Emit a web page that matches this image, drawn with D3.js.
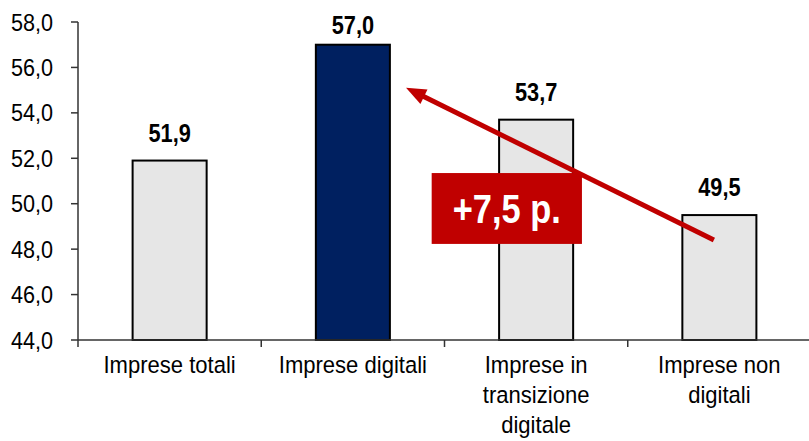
<!DOCTYPE html>
<html>
<head>
<meta charset="utf-8">
<script src="https://cdn.jsdelivr.net/npm/d3@7"></script>
<style>
  html, body { margin: 0; padding: 0; background: #fff; }
  svg { display: block; }
  text { font-family: "Liberation Sans", Arial, sans-serif; fill: #000; }
</style>
</head>
<body>
<svg id="chart" width="809" height="441"></svg>
<script>
// ---- data ----
const categories = ["Imprese totali", "Imprese digitali", "Imprese in\ntransizione\ndigitale", "Imprese non\ndigitali"];
const values = [51.9, 57.0, 53.7, 49.5];
const highlight = [false, true, false, false];
const yTicks = [44, 46, 48, 50, 52, 54, 56, 58];
const annotationText = "+7,5 p.";
// arrow from (category index, offset, value) to (category index, offset, value)
const arrowFrom = [3, -0.03, 48.4];
const arrowTo = [1, 0.29, 55.1];
// box centre (category index, offset, value) and half sizes
const boxCenter = [2, -0.16, 49.79];
const boxHalfBand = 0.41;
const boxHalfValue = 1.56;

(function () {
// ---- layout ----
const W = 809, H = 441;
const mLeft = 78, mRight = 811, mTop = 22, mBottom = 340;
const SX = 0.9; // horizontal text compression (narrow font look)

const svg = d3.select("#chart");
const x = d3.scaleBand().domain(d3.range(categories.length)).range([mLeft, mRight]).padding(0);
const y = d3.scaleLinear().domain([44, 58]).range([mBottom, mTop]);
const barW = x.bandwidth() * 0.404;
const fmt = v => d3.format(".1f")(v).replace(".", ",");
const bx = (c) => x(c[0]) + x.bandwidth() / 2 + c[1] * x.bandwidth();

function squeezedText(g, px, py, str, opts) {
  const t = g.append("text")
    .attr("transform", `translate(${px},${py}) scale(${opts.sx || SX},1)`)
    .attr("text-anchor", opts.anchor || "middle")
    .attr("font-size", opts.size)
    .attr("font-weight", opts.weight || "normal")
    .style("fill", opts.fill || "#000");
  const lines = str.split("\n");
  lines.forEach((l, i) => {
    t.append("tspan").attr("x", 0).attr("dy", i === 0 ? 0 : opts.lineH).text(l);
  });
  return t;
}

// bars
svg.append("g").selectAll("rect").data(values).join("rect")
  .attr("x", (d, i) => x(i) + x.bandwidth() / 2 - barW / 2)
  .attr("y", d => y(d))
  .attr("width", barW)
  .attr("height", d => y(44) - y(d))
  .attr("fill", (d, i) => highlight[i] ? "#002060" : "#E6E6E6")
  .attr("stroke", "#000")
  .attr("stroke-width", 2);

// y axis
const axisCol = "#333";
const ya = svg.append("g");
ya.append("line").attr("x1", mLeft).attr("x2", mLeft).attr("y1", y(58)).attr("y2", mBottom + 7)
  .attr("stroke", axisCol).attr("stroke-width", 1.5);
yTicks.forEach(t => {
  ya.append("line").attr("x1", mLeft - 7).attr("x2", mLeft).attr("y1", y(t)).attr("y2", y(t))
    .attr("stroke", axisCol).attr("stroke-width", 1.5);
  squeezedText(ya, 53, y(t) + 8.5, fmt(t), { size: 24, anchor: "end" });
});

// x axis
const xa = svg.append("g");
xa.append("line").attr("x1", mLeft).attr("x2", W).attr("y1", mBottom).attr("y2", mBottom)
  .attr("stroke", axisCol).attr("stroke-width", 1.5);
d3.range(1, categories.length).forEach(i => {
  xa.append("line").attr("x1", x(i)).attr("x2", x(i)).attr("y1", mBottom).attr("y2", mBottom + 7)
    .attr("stroke", axisCol).attr("stroke-width", 1.5);
});
categories.forEach((c, i) => {
  squeezedText(xa, x(i) + x.bandwidth() / 2, 373, c, { size: 24.5, lineH: 30 });
});

// value labels
values.forEach((v, i) => {
  const by = Math.max(y(v) - 19, 34);
  squeezedText(svg, x(i) + x.bandwidth() / 2, by, fmt(v), { size: 25, weight: "bold", sx: 0.87 });
});

// annotation box
const red = "#C00000";
const cx = bx(boxCenter), cy = y(boxCenter[2]);
const bw = boxHalfBand * x.bandwidth();
const bh = (y(0) - y(boxHalfValue));
svg.append("rect")
  .attr("x", cx - bw).attr("y", cy - bh)
  .attr("width", 2 * bw).attr("height", 2 * bh)
  .attr("fill", red);
squeezedText(svg, cx, cy + 15, annotationText, { size: 41, weight: "bold", fill: "#fff", sx: 0.84 });

// arrow
const x1 = bx(arrowFrom), y1 = y(arrowFrom[2]);
const x2 = bx(arrowTo), y2 = y(arrowTo[2]);
const ang = Math.atan2(y2 - y1, x2 - x1);
const headL = 20, headW = 8;
const baseX = x2 - headL * Math.cos(ang), baseY = y2 - headL * Math.sin(ang);
svg.append("line")
  .attr("x1", x1).attr("y1", y1).attr("x2", baseX + 2 * Math.cos(ang)).attr("y2", baseY + 2 * Math.sin(ang))
  .attr("stroke", red).attr("stroke-width", 5);
const px = -Math.sin(ang), py = Math.cos(ang);
svg.append("path")
  .attr("d", `M${x2},${y2} L${baseX + headW * px},${baseY + headW * py} L${baseX - headW * px},${baseY - headW * py} Z`)
  .attr("fill", red);
})();
</script>
</body>
</html>
